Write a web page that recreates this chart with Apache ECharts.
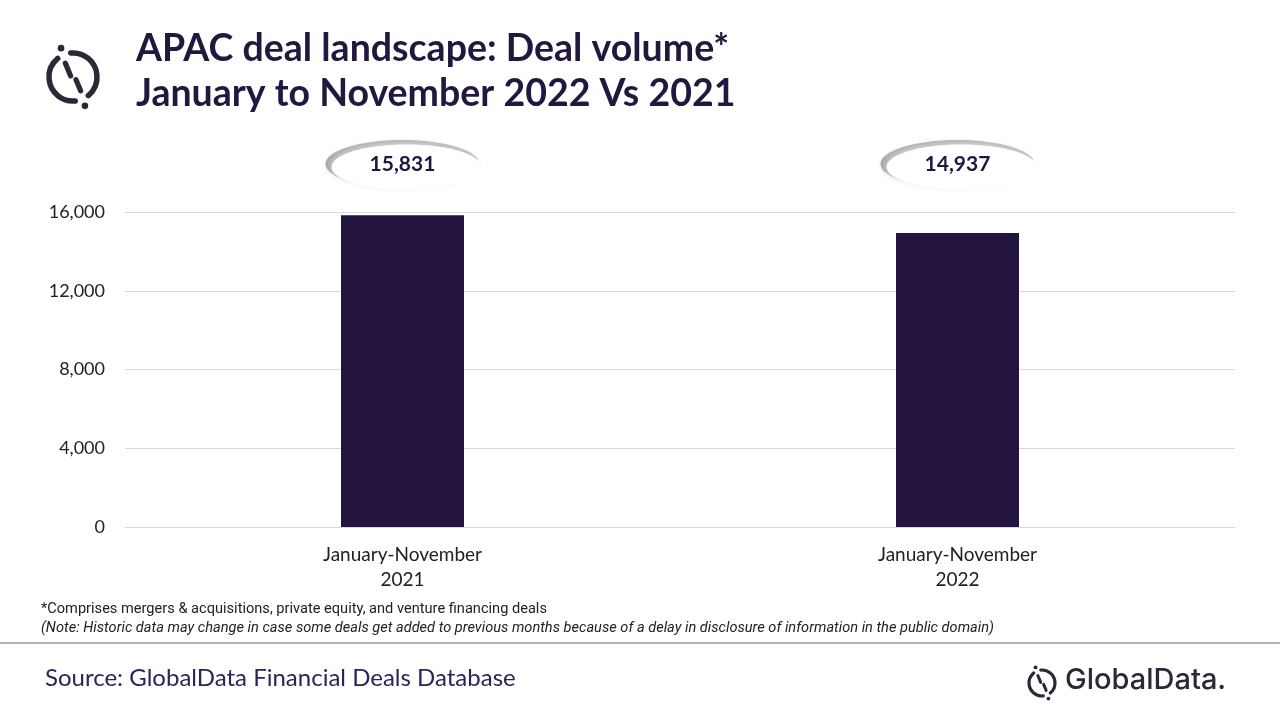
<!DOCTYPE html>
<html>
<head>
<meta charset="utf-8">
<script src="https://cdn.jsdelivr.net/npm/echarts@6/dist/echarts.min.js"></script>
<style>
html,body{margin:0;padding:0;background:#fff;}
#chart{width:1280px;height:720px;}
</style>
</head>
<body>
<div id="chart"></div>
<script>
const categories = ['January-November\n2021', 'January-November\n2022'];
const dealVolume = [15831, 14937];
const yTicks = [0, 4000, 8000, 12000, 16000];

const titleLines = ['APAC deal landscape: Deal volume*', 'January to November 2022 Vs 2021'];
const footnote1 = '*Comprises mergers & acquisitions, private equity, and venture financing deals';
const footnote2 = '(Note: Historic data may change in case some deals get added to previous months because of a delay in disclosure of information in the public domain)';
const sourceText = 'Source: GlobalData Financial Deals Database';

const DARK = '#231440';
const LOGO = '#2b2838';

function makeLogo(cx, cy, r, lw) {
  const d2r = Math.PI / 180;
  const dir = 67.5 * d2r;
  const ux = Math.cos(dir), uy = Math.sin(dir);
  const gap = 17;
  const els = [];
  els.push({type:'arc', shape:{cx:cx, cy:cy, r:r, startAngle:(67.5+gap)*d2r, endAngle:(247.5-gap)*d2r, clockwise:true},
    style:{stroke:LOGO, lineWidth:lw, fill:null, lineCap:'round'}, silent:true});
  els.push({type:'arc', shape:{cx:cx, cy:cy, r:r, startAngle:(247.5+gap)*d2r, endAngle:(427.5-gap)*d2r, clockwise:true},
    style:{stroke:LOGO, lineWidth:lw, fill:null, lineCap:'round'}, silent:true});
  const off = r*0.08;
  els.push({type:'line', shape:{x1:cx-ux*r*0.62-off, y1:cy-uy*r*0.62, x2:cx-ux*r*0.05-off, y2:cy-uy*r*0.05},
    style:{stroke:LOGO, lineWidth:lw*0.95, lineCap:'round'}, silent:true});
  els.push({type:'line', shape:{x1:cx+ux*r*0.12+off, y1:cy+uy*r*0.12, x2:cx+ux*r*0.62+off, y2:cy+uy*r*0.62},
    style:{stroke:LOGO, lineWidth:lw*0.95, lineCap:'round'}, silent:true});
  els.push({type:'circle', shape:{cx:cx-ux*r*1.3, cy:cy-uy*r*1.3, r:lw*0.6}, style:{fill:LOGO}, silent:true});
  els.push({type:'circle', shape:{cx:cx+ux*r*1.3, cy:cy+uy*r*1.3, r:lw*0.6}, style:{fill:LOGO}, silent:true});
  return els;
}

const chart = echarts.init(document.getElementById('chart'), null, {renderer:'canvas'});

const graphics = [].concat(
  makeLogo(73, 77, 24, 5.5),
  makeLogo(1042, 683, 13, 3.2),
  [
    {type:'text', left:136, top:30, style:{text:titleLines[0], font:'bold 37.5px Lato, "Open Sans", sans-serif', fill:'#22173f'}, silent:true},
    {type:'text', left:136, top:75, style:{text:titleLines[1], font:'bold 37.5px Lato, "Open Sans", sans-serif', fill:'#22173f'}, silent:true},
    {type:'text', left:41, top:602, style:{text:footnote1, font:'14.6px "Liberation Sans Narrow", Roboto, sans-serif', fill:'#222'}, silent:true},
    {type:'text', left:41, top:621, style:{text:footnote2, font:'italic 14.6px "Liberation Sans Narrow", Roboto, sans-serif', fill:'#222'}, silent:true},
    {type:'line', shape:{x1:0, y1:643, x2:1280, y2:643}, style:{stroke:'#9a9a9a', lineWidth:1.5}, silent:true},
    {type:'text', left:45, top:666, style:{text:sourceText, font:'24px Lato, "Open Sans", sans-serif', fill:'#2b2458'}, silent:true},
    {type:'text', left:1065, top:666, style:{text:'GlobalData.', font:'500 29px Inter, "Noto Sans", sans-serif', fill:LOGO}, silent:true}
  ]
);

chart.setOption({
  backgroundColor:'#ffffff',
  animation:false,
  grid:{left:125, right:45, top:212, bottom:193, containLabel:false},
  xAxis:{
    type:'category',
    data:categories,
    axisLine:{show:true, lineStyle:{color:'#d9d9d9', width:1}},
    axisTick:{show:false},
    axisLabel:{color:'#222', fontSize:19, fontFamily:'Lato, "Open Sans", sans-serif', margin:15, lineHeight:25}
  },
  yAxis:{
    type:'value',
    min:yTicks[0], max:yTicks[yTicks.length-1], interval:yTicks[1]-yTicks[0],
    axisLine:{show:false}, axisTick:{show:false},
    splitLine:{lineStyle:{color:'#d9d9d9', width:1}},
    axisLabel:{color:'#222', fontSize:18, fontFamily:'Lato, "Open Sans", sans-serif', margin:20,
      formatter:v => v.toLocaleString('en-US')}
  },
  series:[
    {
      type:'bar',
      data:dealVolume,
      barWidth:123,
      itemStyle:{color:DARK},
      silent:true
    },
    {
      type:'custom',
      data:dealVolume.map((v,i)=>[i, v]),
      encode:{x:0, y:1},
      silent:true,
      z:5,
      renderItem:function(params, api){
        const x = api.coord([api.value(0), api.value(1)])[0];
        const topY = api.coord([api.value(0), yTicks[yTicks.length-1]])[1];
        const cy = topY - 48;
        const label = Number(api.value(1)).toLocaleString('en-US');
        return {
          type:'group',
          children:[
            {type:'ellipse', shape:{cx:x, cy:cy, rx:77, ry:24},
              style:{fill:'#9a9a9a', shadowBlur:4, shadowColor:'rgba(0,0,0,0.12)', shadowOffsetY:1}},
            {type:'ellipse', shape:{cx:x+4, cy:cy+3, rx:75, ry:22.5},
              style:{fill:'#ffffff', shadowBlur:16, shadowColor:'rgba(255,255,255,1)'}},
            {type:'ellipse', shape:{cx:x+4, cy:cy+3, rx:72, ry:20.5},
              style:{fill:'#ffffff'}},
            {type:'text', style:{text:label, x:x, y:cy, align:'center', verticalAlign:'middle',
              font:'bold 21px Lato, "Open Sans", sans-serif', fill:DARK}}
          ]
        };
      }
    }
  ],
  graphic:graphics
});
</script>
</body>
</html>
